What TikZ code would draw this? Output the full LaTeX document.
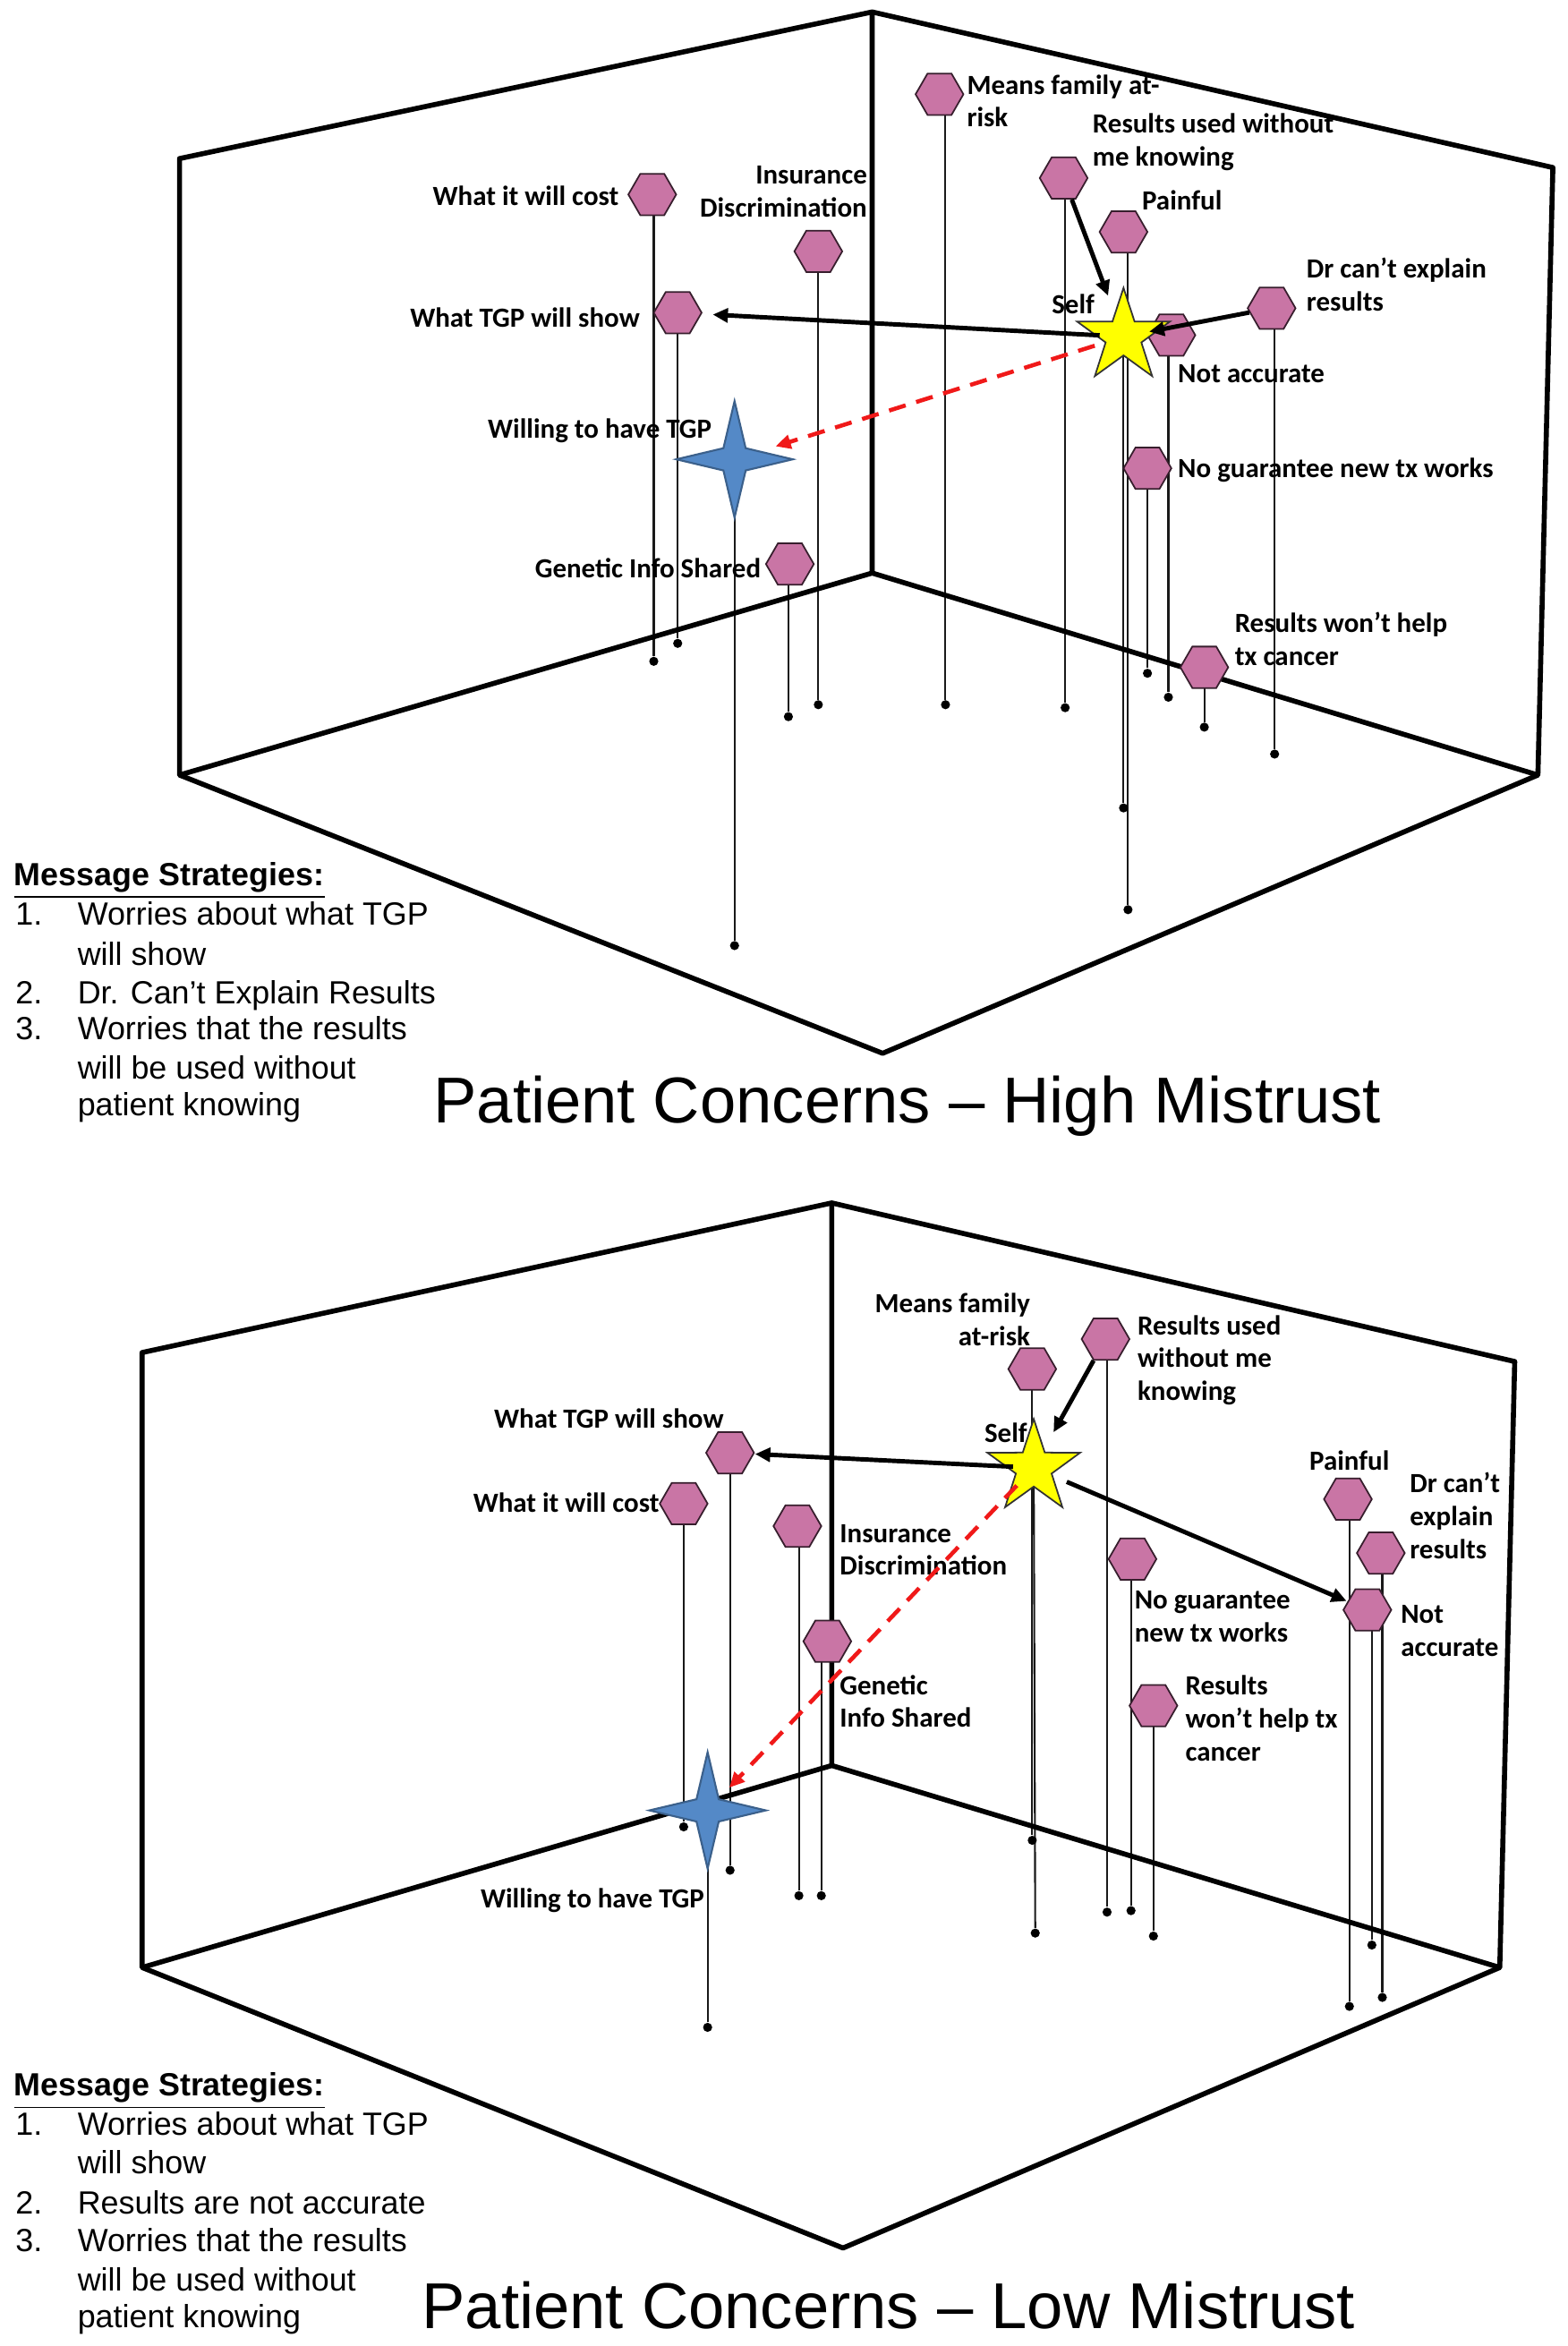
\documentclass[tikz,border=0pt]{standalone}
\usepackage{fontspec}
\setmainfont{Liberation Sans}
\newfontfamily\lblfont{Carlito}
\usetikzlibrary{positioning, shapes.geometric, arrows.meta, backgrounds}
\definecolor{hexpink}{RGB}{201,117,165}
\definecolor{hexedge}{RGB}{55,30,45}
\definecolor{selfyellow}{RGB}{255,255,0}
\definecolor{willblue}{RGB}{84,137,199}
\definecolor{tgpred}{RGB}{240,25,25}

\begin{document}
\begin{tikzpicture}[x=0.016708cm, y=-0.016708cm,
    wall/.style={line width=1.6pt, line join=round},
    hexa/.style={regular polygon, regular polygon sides=6, minimum size=15.2pt, inner sep=0pt, draw=hexedge, line width=0.5pt, fill=hexpink},
    selfstar/.style={star, star points=5, star point ratio=2.6, minimum size=31pt, inner sep=0pt, draw=black!80, line width=0.5pt, fill=selfyellow},
    willstar/.style={star, star points=4, star point ratio=3.7, minimum size=37pt, inner sep=0pt, draw=willblue!70!black, line width=0.6pt, fill=willblue},
    dot/.style={circle, fill=black, inner sep=0pt, minimum size=2.9pt},
    stem/.style={line width=0.6pt, black!90},
    lbl/.style={font=\lblfont\bfseries\fontsize{8.8}{10.4}\selectfont, inner sep=0pt, align=left},
    arr/.style={-{Triangle[length=4.8pt, width=4.4pt]}, line width=1.4pt},
    tgparr/.style={-{Triangle[length=4.8pt, width=4.4pt]}, line width=1.3pt, tgpred, dash pattern=on 5.5pt off 3.5pt},
    strat/.style={font=\fontsize{10.2}{12}\selectfont, inner sep=0pt, anchor=base west},
    heading/.style={font=\fontsize{20.6}{24}\selectfont, inner sep=0pt}]
  \useasboundingbox (0,0) rectangle (1048,1568);
  \begin{scope}[on background layer]
    \fill[white] (0,0) rectangle (1048,1568);
  \end{scope}

  % ---------- high mistrust: the room
  \draw[wall] (120,518) -- (120,106) -- (583,8) -- (1038,112) -- (1028,518) -- (590,704) -- cycle;
  \draw[wall] (583,8) -- (583,383) -- (120,518) (583,383) -- (1028,518);

  % concerns: hexagon, dropped to a dot on the floor
  \foreach \n/\hx/\hy/\dx/\dy in {fam/628/63/632/471, used/711/119/712/473, pain/751/155/754/608,
      expl/850/206/852/504, acc/783/224/781/466, guar/767/313/767/450, help/805/446/805/486,
      cost/436/130/437/442, ins/547/168/547/471, show/453/209/453/430, gen/528/377/527/479} {
    \node[hexa] (t\n) at (\hx,\hy) {};
    \node[dot] (dt\n) at (\dx,\dy) {};
    \begin{scope}[on background layer]
      \draw[stem] (dt\n) -- (dt\n |- t\n.center);
    \end{scope}
  }
  \node[selfstar] (tself) at (751,225) {};
  \node[willstar] (twill) at (491,307) {};
  \node[dot] (dtself) at (751,540) {};
  \node[dot] (dtwill) at (491,632) {};
  \begin{scope}[on background layer]
    \draw[stem] (dtself) -- (tself.center);
    \draw[stem] (dtwill) -- (twill.center);
  \end{scope}

  \node[lbl, anchor=west] (ltfam) at (646,67.5) {Means family at-\\risk};
  \node[lbl, anchor=west] (ltused) at (730,95) {Results used without\\me knowing};
  \node[lbl, anchor=west] (ltpain) at (763,134) {Painful};
  \node[lbl, anchor=west] (ltexpl) at (873,190) {Dr can’t explain\\results};
  \node[lbl, anchor=west] (ltacc) at (787,250) {Not accurate};
  \node[lbl, anchor=west] (ltguar) at (787,314) {No guarantee new tx works};
  \node[lbl, anchor=west] (lthelp) at (825,427) {Results won’t help\\tx cancer};
  \node[lbl, anchor=east] (ltcost) at (414,131) {What it will cost};
  \node[lbl, anchor=east, align=right] (ltins) at (580,128) {Insurance\\Discrimination};
  \node[lbl, anchor=east] (ltshow) at (428,212) {What TGP will show};
  \node[lbl, anchor=east] (ltgen) at (509,380) {Genetic Info Shared};
  \node[lbl, anchor=east] (ltself) at (732,203) {Self};
  \node[lbl, anchor=east] (ltwill) at (476,288) {Willing to have TGP};

  \draw[arr] (tused) -- (tself.center) [shorten >=13.9pt];
  \draw[arr] (texpl) -- (tself.center) [shorten >=8.3pt];
  \draw[arr] (tself.center) -- (tshow) [shorten <=7.6pt, shorten >=3.5pt];
  \draw[tgparr] (tself.center) -- (twill.center) [shorten <=9.6pt, shorten >=13.7pt];

  \node[strat, font=\bfseries\fontsize{10.2}{12}\selectfont] (tms) at (9,592) {\underline{Message Strategies:}};
  \node[strat] (tn1) at (10,618) {1.};
  \node[strat] (ti1) at (51.5,618) {Worries about what TGP};
  \node[strat] (ti1b) at (51.5,645) {will show};
  \node[strat] (tn2) at (10,671) {2.};
  \node[strat] (ti2) at (51.5,671) {Dr. Can’t Explain Results};
  \node[strat] (tn3) at (10,695) {3.};
  \node[strat] (ti3) at (51.5,695) {Worries that the results};
  \node[strat] (ti3b) at (51.5,721) {will be used without};
  \node[strat] (ti3c) at (51.5,746) {patient knowing};
  \node[heading] (thead) at (606.5,739) {Patient Concerns – High Mistrust};

  % ---------- low mistrust: the room
  \draw[wall] (95,1315) -- (95,904) -- (556,804) -- (1012.5,910) -- (1002.5,1315) -- (563.5,1502.5) -- cycle;
  \draw[wall] (556,804) -- (556,1180) -- (95,1315) (556,1180) -- (1002.5,1315);

  \foreach \n/\hx/\hy/\dx/\dy in {fam/690/915/690/1230, used/739/895/740/1278, pain/901/1002/902/1341,
      expl/923/1038/924/1335, acc/914/1076/917/1300, guar/757/1042/756/1277, help/771/1140/771/1294,
      show/488/971/488/1250, cost/457/1005/457/1221, ins/533/1020/534/1267, gen/553/1097/549/1267} {
    \node[hexa] (b\n) at (\hx,\hy) {};
    \node[dot] (db\n) at (\dx,\dy) {};
    \begin{scope}[on background layer]
      \draw[stem] (db\n) -- (db\n |- b\n.center);
    \end{scope}
  }
  \node[selfstar] (bself) at (691,981) {};
  \node[willstar] (bwill) at (473,1210) {};
  \node[dot] (dbself) at (692,1292) {};
  \node[dot] (dbwill) at (473,1355) {};
  \begin{scope}[on background layer]
    \draw[stem] (dbself) -- (bself.center);
    \draw[stem] (dbwill) -- (bwill.center);
  \end{scope}

  \node[lbl, anchor=east, align=right] (lbfam) at (689,882) {Means family\\at-risk};
  \node[lbl, anchor=west] (lbused) at (760,909) {Results used\\without me\\knowing};
  \node[lbl, anchor=east] (lbself) at (687,957.5) {Self};
  \node[lbl] (lbshow) at (407,948) {What TGP will show};
  \node[lbl, anchor=east] (lbcost) at (441,1004.5) {What it will cost};
  \node[lbl, anchor=west] (lbins) at (561,1036) {Insurance\\Discrimination};
  \node[lbl] (lbpain) at (902,976) {Painful};
  \node[lbl, anchor=west] (lbexpl) at (942,1013) {Dr can’t\\explain\\results};
  \node[lbl, anchor=west] (lbguar) at (758,1080.5) {No guarantee\\new tx works};
  \node[lbl, anchor=west] (lbacc) at (936,1090) {Not\\accurate};
  \node[lbl, anchor=west] (lbgen) at (561,1137) {Genetic\\Info Shared};
  \node[lbl, anchor=west] (lbhelp) at (792,1148.5) {Results\\won’t help tx\\cancer};
  \node[lbl] (lbwill) at (396,1270) {Willing to have TGP};

  \draw[arr] (bused) -- (bself.center) [shorten >=12.9pt];
  \draw[arr] (bself.center) -- (bshow) [shorten <=6.6pt, shorten >=0.3pt];
  \draw[arr] (bself.center) -- (bacc) [shorten <=11.4pt, shorten >=0.3pt];
  \draw[tgparr] (bself.center) -- (bwill.center) [shorten <=7.8pt, shorten >=10pt];

  \node[strat, font=\bfseries\fontsize{10.2}{12}\selectfont] (bms) at (9,1401) {\underline{Message Strategies:}};
  \node[strat] (bn1) at (10,1427) {1.};
  \node[strat] (bi1) at (51.5,1427) {Worries about what TGP};
  \node[strat] (bi1b) at (51.5,1453) {will show};
  \node[strat] (bn2) at (10,1480) {2.};
  \node[strat] (bi2) at (51.5,1480) {Results are not accurate};
  \node[strat] (bn3) at (10,1505) {3.};
  \node[strat] (bi3) at (51.5,1505) {Worries that the results};
  \node[strat] (bi3b) at (51.5,1531) {will be used without};
  \node[strat] (bi3c) at (51.5,1556) {patient knowing};
  \node[heading] (bhead) at (594,1541) {Patient Concerns – Low Mistrust};
\end{tikzpicture}
\end{document}
